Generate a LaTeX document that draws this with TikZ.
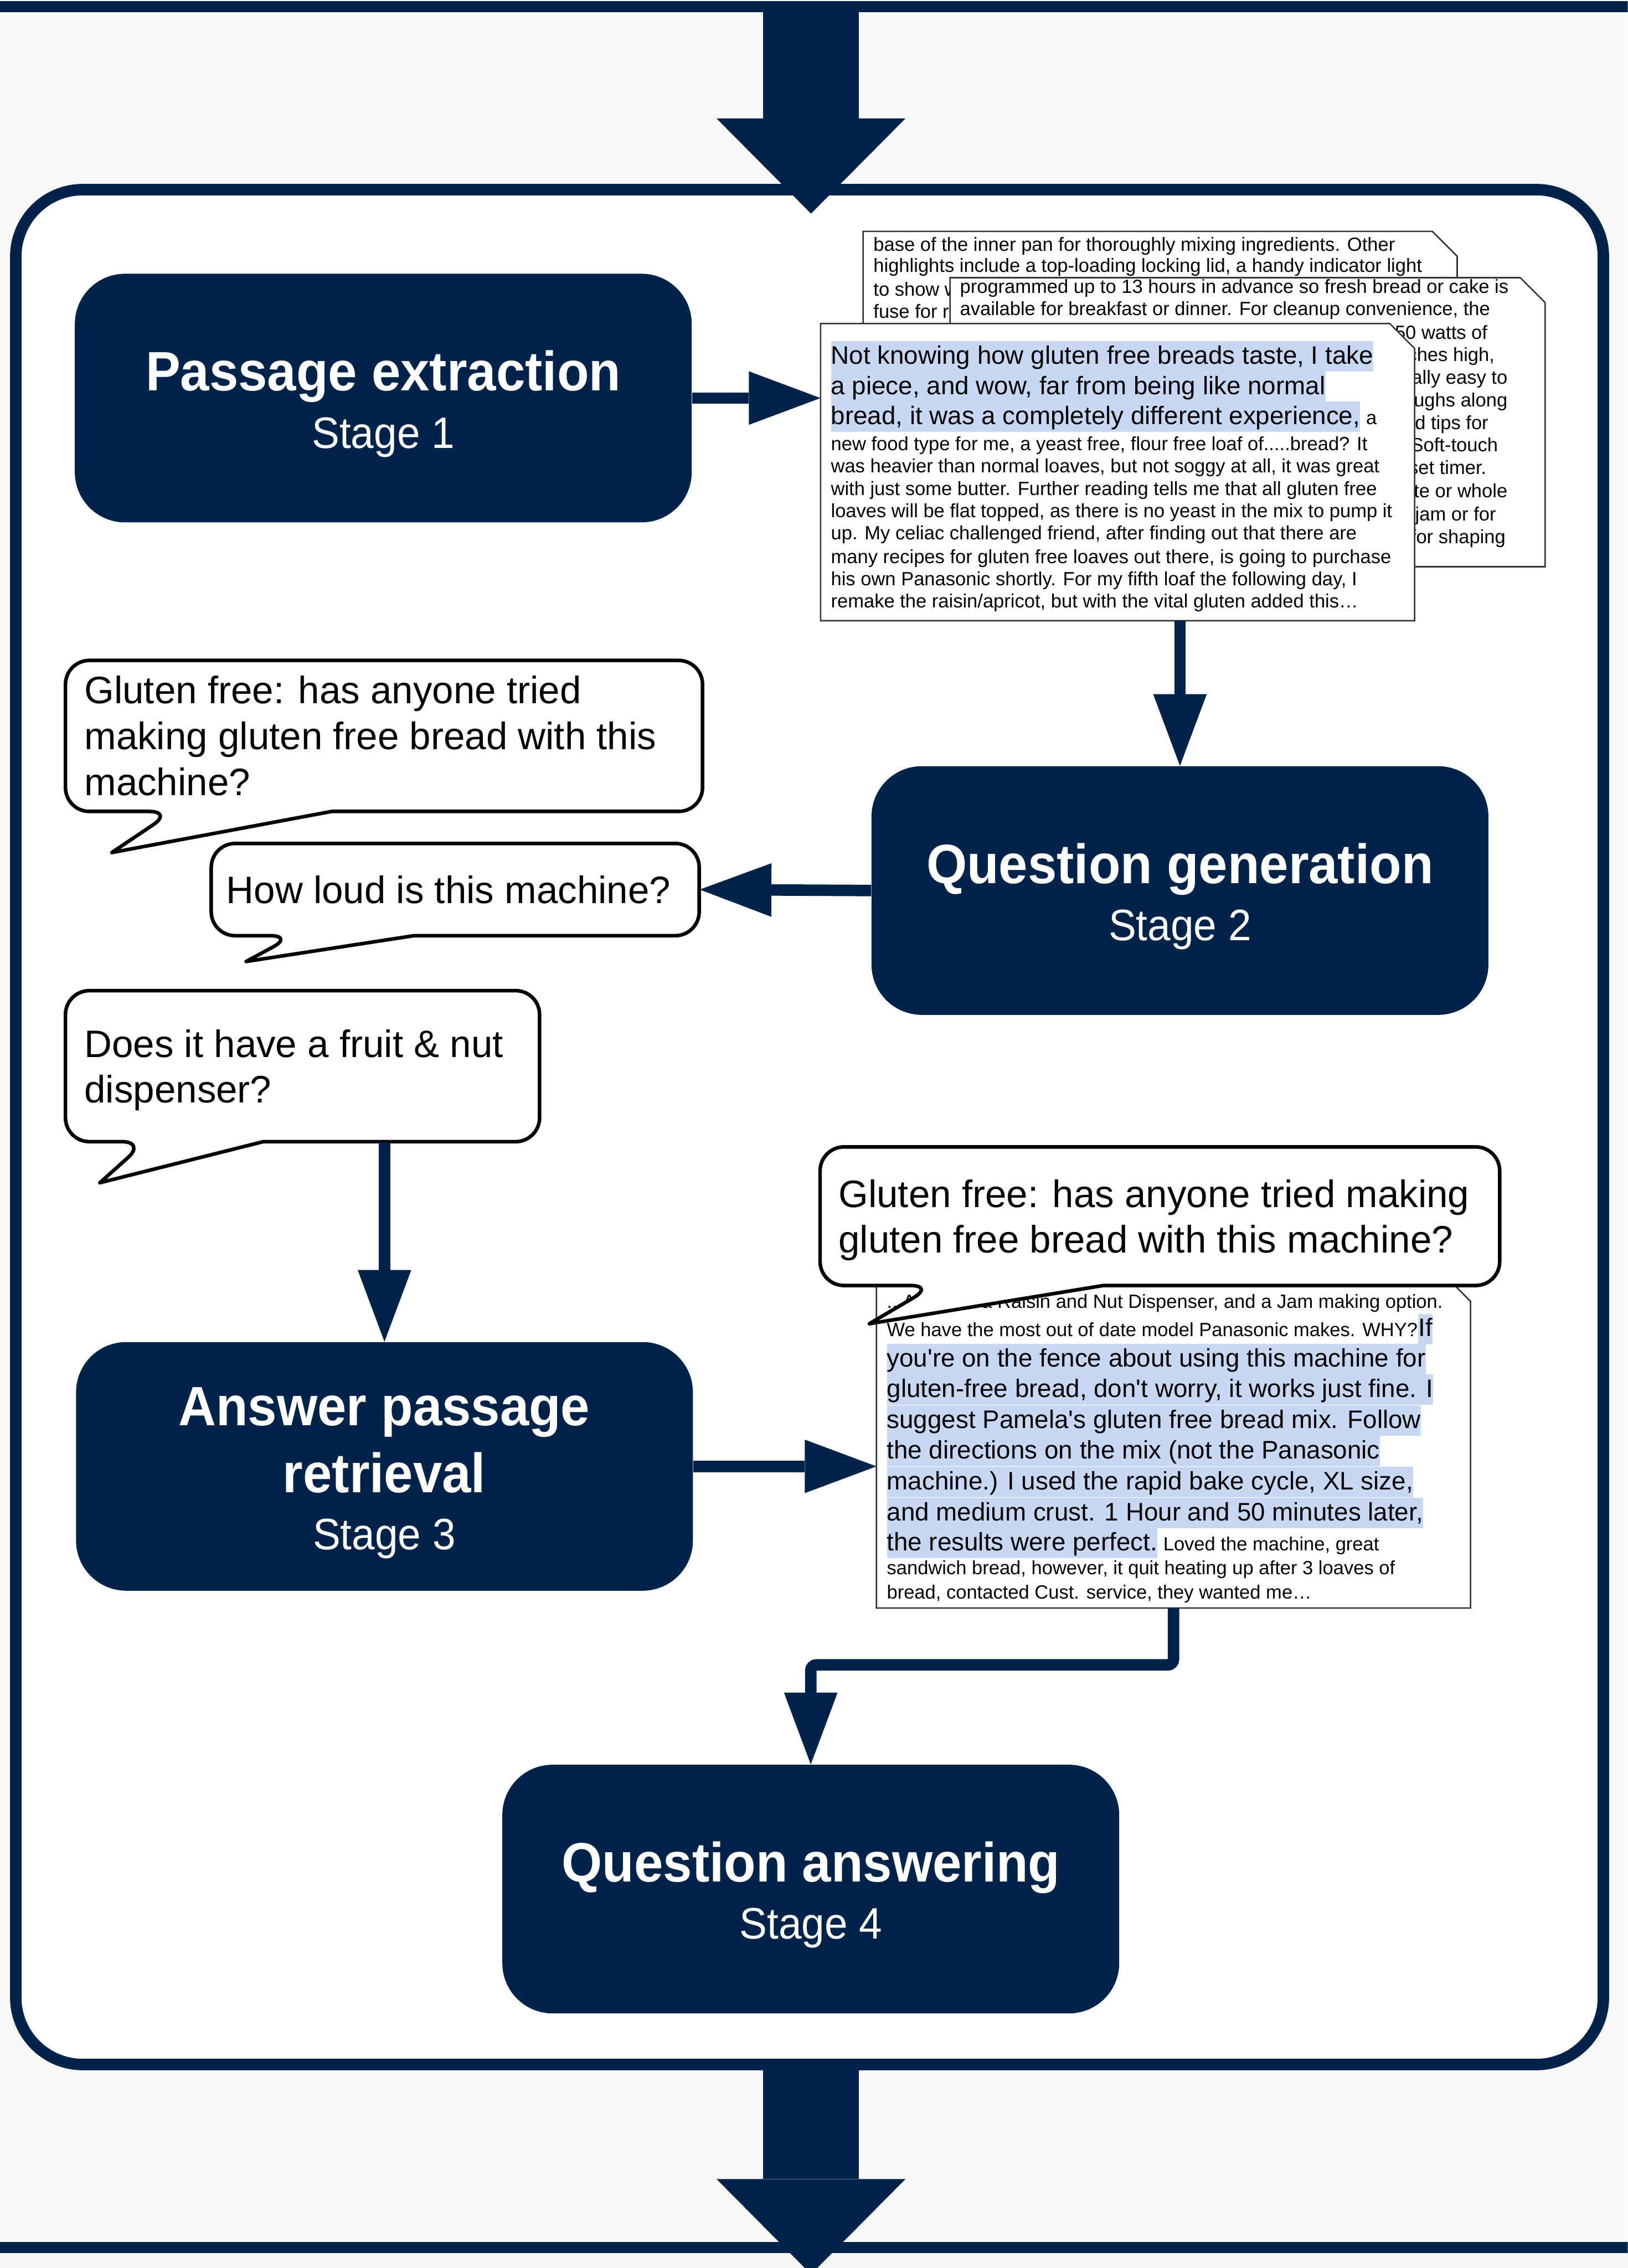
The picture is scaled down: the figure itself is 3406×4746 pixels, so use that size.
\documentclass[tikz,border=0pt]{standalone}
\usepackage{fontspec}
\setmainfont{Liberation Sans}
\newfontfamily\titlefont{Liberation Sans}[FakeStretch=0.94]
\usetikzlibrary{arrows.meta}
\definecolor{navy}{HTML}{002349}
\definecolor{hl}{HTML}{C8D7F4}
\definecolor{bg}{HTML}{F9F9F9}
\newcommand\fsmall{\fontsize{11.38pt}{13.4pt}\selectfont}
\newcommand\fbig{\fontsize{15.08pt}{17.9pt}\selectfont}
\newcommand\fbub{\fontsize{22.76pt}{27pt}\selectfont}
\newcommand\ftitle{\titlefont\bfseries\fontsize{33pt}{40pt}\selectfont}
\newcommand\fstage{\titlefont\fontsize{26.2pt}{31pt}\selectfont}
\newcommand\q{\textquotesingle}
\tikzset{
  txt/.style={anchor=base west, inner sep=0pt, font=\fsmall},
  rtxt/.style={anchor=base east, inner sep=0pt, font=\fsmall},
  btxt/.style={anchor=base west, inner sep=0pt, font=\fbig},
  hltxt/.style={btxt, fill=hl, text height=0.48cm, text depth=0.16cm},
  bubtxt/.style={anchor=base west, inner sep=0pt, font=\fbub},
  ttxt/.style={anchor=base, inner sep=0pt, font=\ftitle, text=white},
  stxt/.style={anchor=base, inner sep=0pt, font=\fstage, text=white},
  stagebox/.style={fill=navy, rounded corners=1.05cm, minimum width=12.9cm, minimum height=5.2cm, inner sep=0pt},
  area/.style={inner sep=0pt},
  docshape/.style={fill=white, draw=black!80, line width=0.03cm},
  bubble/.style={fill=white, draw=black, line width=0.075cm, line join=round},
  conn/.style={draw=navy, line width=0.24cm, -{Triangle[length=1.5cm, width=1.12cm, line width=0pt]}},
  bigarrow/.style={draw=navy, line width=2cm, -{Triangle[length=1.99cm, width=3.95cm, line width=0pt]}},
}
\newcommand\docpath[1]{\draw[docshape] (#1.south west) -- (#1.north west) -- ([xshift=-0.52cm]#1.north east) -- ([yshift=-0.52cm]#1.north east) -- (#1.south east) -- cycle;}
% L T R B bx1 bx2 tipx tipy
\newcommand\speechbubble[8]{\draw[bubble] (#6,#4) [rounded corners=0.5cm] -- (#3,#4) -- (#3,#2) -- (#1,#2) -- (#1,#4) -- (#5,#4) [sharp corners] -- (#7,#8) -- cycle;}
\begin{document}
\begin{tikzpicture}[x=0.01cm, y=-0.01cm]
\useasboundingbox (0,0) rectangle (3406,4746);
\clip (0,0) rectangle (3406,4746);
% background
\fill[bg] (0,0) rectangle (3406,4746);
\fill[black!4] (0,4715) rectangle (3406,4746);
\fill[navy] (0,2) rectangle (3406,26);
\fill[navy] (0,4691) rectangle (3406,4715);
% frame
\node[draw=navy, line width=0.24cm, fill=white, rounded corners=1.4cm, minimum width=33.2cm, minimum height=39.21cm, inner sep=0pt] (frame) at (1694,2358.5) {};
% big in/out arrows
\coordinate (topsrc) at (1697,14);
\coordinate (toptip) at (1697,447);
\draw[bigarrow] (topsrc) -- (toptip);
\coordinate (botsrc) at (1697,4319);
\coordinate (bottip) at (1697,4759);
\draw[bigarrow] (botsrc) -- (bottip);

% stage boxes
\node[stagebox] (pe) at (802,833) {};
\node[stagebox] (qg) at (2469,1863.5) {};
\node[stagebox] (apr) at (804.5,3068.5) {};
\node[stagebox] (qa) at (1696.5,3953) {};
\node[ttxt] (pet) at (802,818) {Passage extraction};
\node[stxt] (pes) at (802,938) {Stage 1};
\node[ttxt] (qgt) at (2469,1849) {Question generation};
\node[stxt] (qgs) at (2469,1968) {Stage 2};
\node[ttxt] (aprt1) at (804,2983) {Answer passage};
\node[ttxt] (aprt2) at (804,3123) {retrieval};
\node[stxt] (aprs) at (804,3243) {Stage 3};
\node[ttxt] (qat) at (1697,3938) {Question answering};
\node[stxt] (qas) at (1697,4057) {Stage 4};

% ---- document stack ----
\node[area, minimum width=12.41cm, minimum height=6.15cm] (bd1) at (2427.5,792.5) {};
\docpath{bd1}
\node[txt] (bd1a) at (1827,526) {base of the inner pan for thoroughly mixing ingredients. Other};
\node[txt] (bd1b) at (1827,570) {highlights include a top-loading locking lid, a handy indicator light};
\node[txt] (bd1c) at (1827,619) {to show when the bread is ready, and a thermal};
\node[txt] (bd1d) at (1827,666) {fuse for reliable operation.};

\node[area, minimum width=12.43cm, minimum height=6.03cm] (bd2) at (2610.5,883.5) {};
\docpath{bd2}
\node[txt] (bd2a) at (2008,614) {programmed up to 13 hours in advance so fresh bread or cake is};
\node[txt] (bd2b) at (2008,660) {available for breakfast or dinner. For cleanup convenience, the};
\node[rtxt] (bd2c) at (3113,710) {unit uses 550 watts of};
\node[rtxt] (bd2d) at (3128,756) {measures 13 inches high,};
\node[rtxt] (bd2e) at (3155,803) {is additionally easy to};
\node[rtxt] (bd2f) at (3155,851) {and makes doughs along};
\node[rtxt] (bd2g) at (3115,899) {with recipes and tips for};
\node[rtxt] (bd2h) at (3135,945) {features include a Soft-touch};
\node[rtxt] (bd2i) at (3111,992) {panel and a preset timer.};
\node[rtxt] (bd2j) at (3155,1041) {breads such as white or whole};
\node[rtxt] (bd2k) at (3131,1090) {wheat, dough, cake, jam or for};
\node[rtxt] (bd2l) at (3151,1137) {pizza dough for shaping};

\node[area, minimum width=12.41cm, minimum height=6.2cm] (fd) at (2338.5,988) {};
\docpath{fd}
\node[hltxt] (fd1) at (1738,762) {Not knowing how gluten free breads taste, I take};
\node[hltxt] (fd2) at (1738,826) {a piece, and wow, far from being like normal};
\node[hltxt] (fd3) at (1738,888) {bread, it was a completely different experience,};
\node[txt] (fd3b) at (fd3.base east) {~a};
\node[txt] (fd4) at (1738,943) {new food type for me, a yeast free, flour free loaf of.....bread? It};
\node[txt] (fd5) at (1738,989) {was heavier than normal loaves, but not soggy at all, it was great};
\node[txt] (fd6) at (1738,1036) {with just some butter. Further reading tells me that all gluten free};
\node[txt] (fd7) at (1738,1083) {loaves will be flat topped, as there is no yeast in the mix to pump it};
\node[txt] (fd8) at (1738,1129) {up. My celiac challenged friend, after finding out that there are};
\node[txt] (fd9) at (1738,1179) {many recipes for gluten free loaves out there, is going to purchase};
\node[txt] (fd10) at (1738,1225) {his own Panasonic shortly. For my fifth loaf the following day, I};
\node[txt] (fd11) at (1738,1272) {remake the raisin/apricot, but with the vital gluten added this…};

% ---- answer document ----
\node[area, minimum width=12.41cm, minimum height=6.92cm] (ad) at (2455.5,3018) {};
\docpath{ad}
\node[txt] (ad1) at (1855,2737) {...Also has a Raisin and Nut Dispenser, and a Jam making option.};
\node[txt] (ad2) at (1855,2797) {We have the most out of date model Panasonic makes. WHY?~};
\node[hltxt] (ad2b) at (ad2.base east) {If};
\node[hltxt] (ad3) at (1855,2860) {you\q re on the fence about using this machine for};
\node[hltxt] (ad4) at (1855,2924) {gluten-free bread, don\q t worry, it works just fine. I};
\node[hltxt] (ad5) at (1855,2989) {suggest Pamela\q s gluten free bread mix. Follow};
\node[hltxt] (ad6) at (1855,3052) {the directions on the mix (not the Panasonic};
\node[hltxt] (ad7) at (1855,3117) {machine.) I used the rapid bake cycle, XL size,};
\node[hltxt] (ad8) at (1855,3182) {and medium crust. 1 Hour and 50 minutes later,};
\node[hltxt] (ad9) at (1855,3245) {the results were perfect.};
\node[txt] (ad9b) at (ad9.base east) {~Loved the machine, great};
\node[txt] (ad10) at (1855,3295) {sandwich bread, however, it quit heating up after 3 loaves of};
\node[txt] (ad11) at (1855,3346) {bread, contacted Cust. service, they wanted me…};

% ---- speech bubbles ----
\node[area, minimum width=13.33cm, minimum height=3.16cm] (b1) at (803.5,1540) {};
\speechbubble{137}{1382}{1470}{1698}{362}{694}{234}{1784}
\node[bubtxt] (b1a) at (176,1472) {Gluten free: has anyone tried};
\node[bubtxt] (b1b) at (176,1568) {making gluten free bread with this};
\node[bubtxt] (b1c) at (176,1664) {machine?};

\node[area, minimum width=10.21cm, minimum height=1.93cm] (b2) at (952.5,1861.5) {};
\speechbubble{442}{1765}{1463}{1958}{615}{866}{515}{2012}
\node[bubtxt] (b2a) at (473,1890) {How loud is this machine?};

\node[area, minimum width=9.92cm, minimum height=3.16cm] (b3) at (633,2231) {};
\speechbubble{137}{2073}{1129}{2389}{305}{551}{209}{2475}
\node[bubtxt] (b3a) at (176,2212) {Does it have a fruit \& nut};
\node[bubtxt] (b3b) at (176,2307) {dispenser?};

\node[area, minimum width=14.22cm, minimum height=2.9cm] (b4) at (2427,2545) {};
\speechbubble{1716}{2400}{3138}{2690}{1955}{2309}{1819}{2770}
\node[bubtxt] (b4a) at (1754,2527) {Gluten free: has anyone tried making};
\node[bubtxt] (b4b) at (1754,2622) {gluten free bread with this machine?};

% ---- connectors ----
\draw[conn] (pe.east) -- (pe.east -| fd.west);
\draw[conn] (qg.north |- fd.south) -- (qg.north);
\draw[conn] (qg.west) -- (b2.east);
\draw[conn] (apr.north |- b3.south) -- (apr.north);
\draw[conn] (apr.east) -- (apr.east -| ad.west);
\draw[conn, rounded corners=0.12cm] (ad.south) -- ++(0,119) -| (qa.north);
\end{tikzpicture}
\end{document}
